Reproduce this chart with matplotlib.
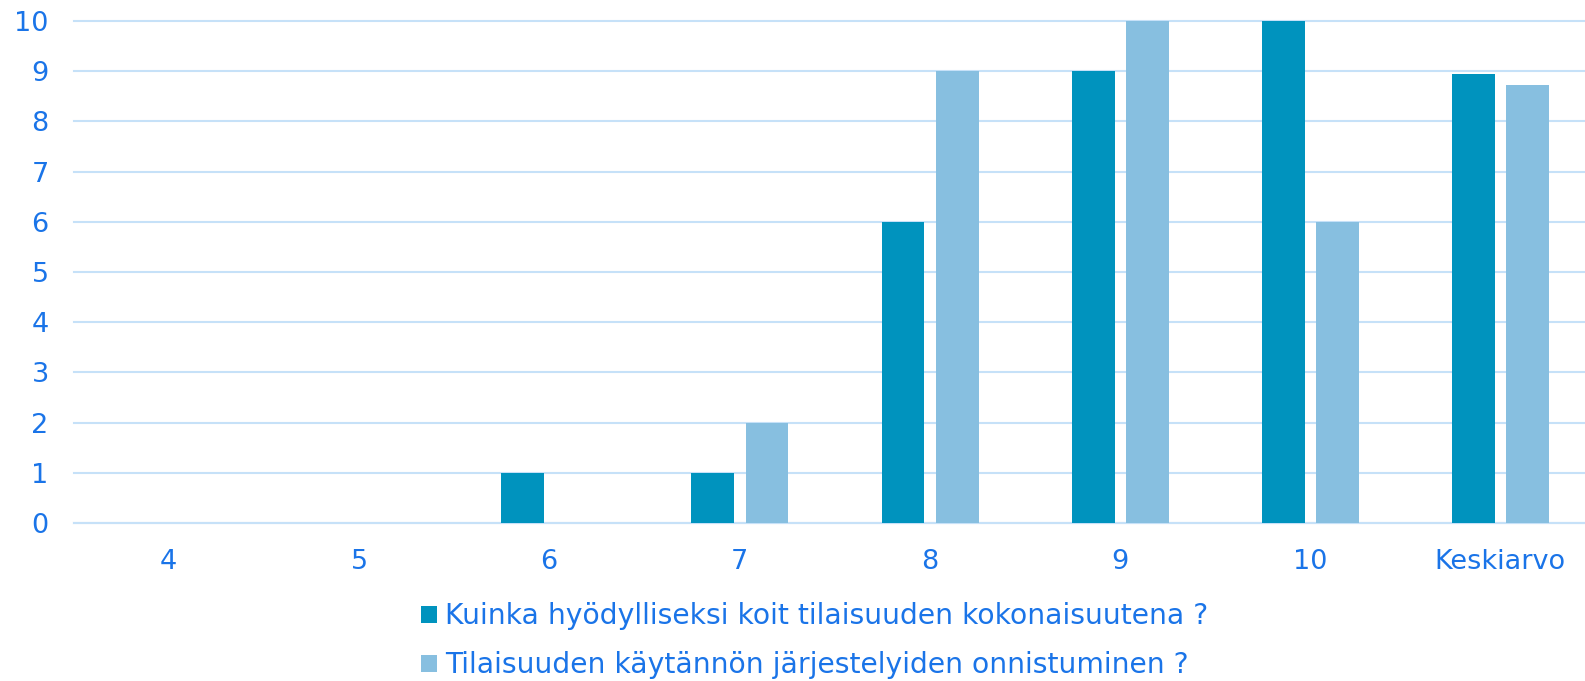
import numpy as np
import matplotlib
matplotlib.use("Agg")
import matplotlib.pyplot as plt

categories = ["4", "5", "6", "7", "8", "9", "10", "Keskiarvo"]
hyodyllisyys = [0, 0, 1, 1, 6, 9, 10, 8.95]
jarjestelyt = [0, 0, 0, 2, 9, 10, 6, 8.73]
series_names = [
    "Kuinka hyödylliseksi koit tilaisuuden kokonaisuutena ?",
    "Tilaisuuden käytännön järjestelyiden onnistuminen ?",
]

text_color = "#1a74e8"
dark = "#0093be"
light = "#87bfe0"
grid_color = "#c6e1f8"

plt.rcParams["font.family"] = ["DejaVu Sans"]

fig = plt.figure(figsize=(15.85, 6.81), dpi=100)
ax = fig.add_axes([0.0465, 0.232, 0.96, 0.737])

x = np.arange(len(categories))
w = 0.225
ax.bar(x - 0.14, hyodyllisyys, w, color=dark, label=series_names[0], zorder=3)
ax.bar(x + 0.145, jarjestelyt, w, color=light, label=series_names[1], zorder=3)

ax.set_xlim(-0.5, len(categories) - 0.5)
ax.set_ylim(0, 10)
ax.set_yticks(range(0, 11))
ax.set_xticks(x)
ax.set_xticklabels(categories)
ax.tick_params(axis="both", length=0, labelsize=19.5, labelcolor=text_color)
ax.tick_params(axis="x", pad=19)
ax.tick_params(axis="y", pad=18)
ax.grid(axis="y", color=grid_color, linewidth=1.5, zorder=0)
for line in ax.get_ygridlines():
    line.set_clip_on(False)
for s in ["top", "right", "left"]:
    ax.spines[s].set_visible(False)
ax.spines["bottom"].set_color(grid_color)
ax.spines["bottom"].set_linewidth(1.5)

leg = fig.legend(
    loc="upper center",
    bbox_to_anchor=(0.514, 0.153),
    ncol=1,
    frameon=False,
    fontsize=20.3,
    handlelength=0.55,
    handleheight=0.55,
    handletextpad=0.3,
    labelspacing=0.75,
    labelcolor=text_color,
)

fig.savefig("out.png", dpi=100)
